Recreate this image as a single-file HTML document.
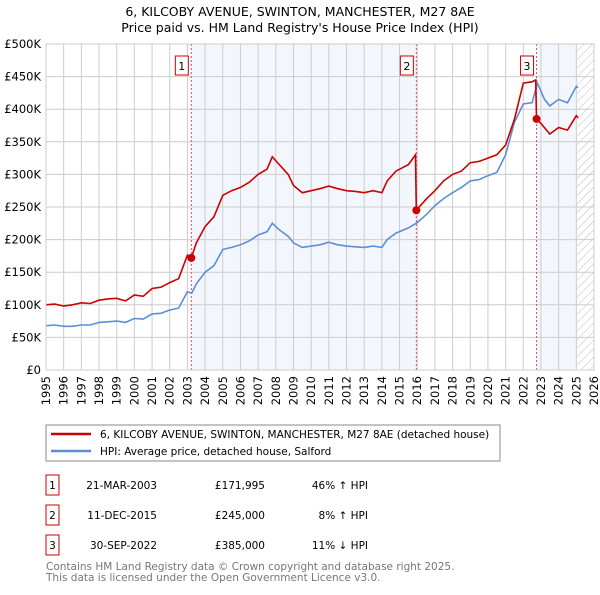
<!DOCTYPE html>
<html><head><meta charset="utf-8"><style>
body{margin:0;background:#fff;font-family:"Liberation Sans","DejaVu Sans",sans-serif;}
svg text{font-family:"DejaVu Sans","Liberation Sans",sans-serif;}
</style></head><body>
<svg id="c" width="600" height="590" xmlns="http://www.w3.org/2000/svg">
<defs><pattern id="hatch" width="6" height="6" patternUnits="userSpaceOnUse" patternTransform="rotate(45)"><line x1="0" y1="0" x2="0" y2="6" stroke="#bbb" stroke-width="1"/></pattern></defs>
<text x="300" y="16" text-anchor="middle" font-size="12.5">6, KILCOBY AVENUE, SWINTON, MANCHESTER, M27 8AE</text>
<text x="300" y="32" text-anchor="middle" font-size="12.5">Price paid vs. HM Land Registry's House Price Index (HPI)</text>
<g id="plot"></g>
<rect x="46" y="425" width="454" height="36" fill="#fff" stroke="#888"/>
<line x1="51" y1="434" x2="91" y2="434" stroke="#cc0000" stroke-width="2.5"/>
<text x="100" y="438" font-size="10.5">6, KILCOBY AVENUE, SWINTON, MANCHESTER, M27 8AE (detached house)</text>
<line x1="51" y1="451" x2="91" y2="451" stroke="#5b8fd6" stroke-width="2.5"/>
<text x="100" y="455" font-size="10.5">HPI: Average price, detached house, Salford</text>
<g id="table" font-size="10.5"></g>
<text x="46" y="570" font-size="10.5" fill="#777">Contains HM Land Registry data © Crown copyright and database right 2025.</text>
<text x="46" y="581" font-size="10.5" fill="#777">This data is licensed under the Open Government Licence v3.0.</text>
</svg>
<script>
const hpiYears=[1995,1995.5,1996,1996.5,1997,1997.5,1998,1998.5,1999,1999.5,2000,2000.5,2001,2001.5,2002,2002.5,2003,2003.25,2003.5,2004,2004.5,2005,2005.5,2006,2006.5,2007,2007.5,2007.8,2008.2,2008.7,2009,2009.5,2010,2010.5,2011,2011.5,2012,2012.5,2013,2013.5,2014,2014.3,2014.8,2015.5,2016,2016.5,2017,2017.5,2018,2018.5,2019,2019.5,2020,2020.5,2021,2021.5,2022,2022.5,2022.8,2023.2,2023.5,2024,2024.5,2025,2025.1];
const hpiValues=[68,69,67,67,69,69,73,74,75,73,79,78,86,87,92,95,120,118,132,150,160,185,188,192,198,207,212,225,215,205,195,188,190,192,196,192,190,189,188,190,188,200,210,218,226,238,252,263,272,280,290,292,298,303,330,380,408,410,440,415,405,415,410,435,433];
const propYears=[1995,1995.5,1996,1996.5,1997,1997.5,1998,1998.5,1999,1999.5,2000,2000.5,2001,2001.5,2002,2002.5,2003,2003.22,2003.5,2004,2004.5,2005,2005.5,2006,2006.5,2007,2007.5,2007.8,2008.2,2008.7,2009,2009.5,2010,2010.5,2011,2011.5,2012,2012.5,2013,2013.5,2014,2014.3,2014.8,2015.5,2015.9,2015.95,2016.5,2017,2017.5,2018,2018.5,2019,2019.5,2020,2020.5,2021,2021.5,2022,2022.5,2022.7,2022.75,2023,2023.5,2024,2024.5,2025,2025.1];
const propValues=[100,101,98,100,103,102,107,109,110,106,115,113,125,127,134,140,176,172,195,220,235,268,275,280,288,300,308,327,315,300,283,272,275,278,282,278,275,274,272,275,272,290,305,315,330,245,262,275,290,300,305,318,320,325,330,345,385,440,442,445,385,378,362,372,368,390,387];
const saleLabels=["1","2","3"];
const saleYears=[2003.22,2015.95,2022.75];
const saleValues=[171995,245000,385000];
const saleDates=["21-MAR-2003","11-DEC-2015","30-SEP-2022"];
const salePrices=["£171,995","£245,000","£385,000"];
const saleDiffs=["46% ↑ HPI","8% ↑ HPI","11% ↓ HPI"];
const yTicks=[0,50,100,150,200,250,300,350,400,450,500];
const xTicks=[1995,1996,1997,1998,1999,2000,2001,2002,2003,2004,2005,2006,2007,2008,2009,2010,2011,2012,2013,2014,2015,2016,2017,2018,2019,2020,2021,2022,2023,2024,2025,2026];

const NS="http://www.w3.org/2000/svg";
const L=46,R=594,T=44,B=370;
const X=y=>L+(y-1995)/(2026-1995)*(R-L);
const Y=v=>B-v/500*(B-T);
const g=document.getElementById('plot');
function mk(tag,attrs,parent){const e=document.createElementNS(NS,tag);for(const k in attrs)e.setAttribute(k,attrs[k]);(parent||g).appendChild(e);return e;}
let s1=mk('rect',{x:X(saleYears[0]),y:T,width:X(saleYears[1])-X(saleYears[0]),height:B-T,fill:'#eef3fc',opacity:0.7});


let s2=mk('rect',{x:X(saleYears[2]),y:T,width:X(2025.05)-X(saleYears[2]),height:B-T,fill:'#eef3fc',opacity:0.7});


let h=mk('rect',{x:X(2025.05),y:T,width:R-X(2025.05),height:B-T,fill:'url(#hatch)'});


xTicks.forEach(t=>{
 let l=mk('line',{x1:X(t),x2:X(t),y1:T,y2:B,stroke:'#ccc','stroke-width':1});
 
 
 let tx=mk('text',{x:0,y:0,'font-size':11.5,'text-anchor':'end',transform:`translate(${X(t)+4},${B+6}) rotate(-90)`});
 tx.textContent=t;
 
 
});
yTicks.forEach(t=>{
 let l=mk('line',{x1:L,x2:R,y1:Y(t),y2:Y(t),stroke:'#ccc','stroke-width':1});
 
 
 let tx=mk('text',{x:L-5,y:Y(t)+4,'font-size':11.5,'text-anchor':'end'});
 tx.textContent=t===0?'£0':'£'+t+'K';
 
 
});
saleYears.forEach((sy,i)=>{
 let l=mk('line',{x1:X(sy),x2:X(sy),y1:T,y2:B,stroke:'#e05050','stroke-width':1,'stroke-dasharray':'2,2'});
 
 
 let bx=X(sy)-12;
 let r=mk('rect',{x:bx-4,y:56,width:13,height:19,fill:'#fff',stroke:'#cc0000'});
 
 
 let t=mk('text',{x:bx+2.5,y:70,'font-size':11,'text-anchor':'middle'});
 t.textContent=saleLabels[i];
 
 
});
function path(xs,vs,color,name){
 let d=xs.map((x,i)=>(i?'L':'M')+X(x).toFixed(1)+','+Y(vs[i]).toFixed(1)).join('');
 let p=mk('path',{d:d,fill:'none',stroke:color,'stroke-width':1.6});
 
 
}
path(hpiYears,hpiValues,'#5b8fd6','hpi-line');
path(propYears,propValues,'#cc0000','property-line');
saleYears.forEach((sy,i)=>{
 let c=mk('circle',{cx:X(sy),cy:Y(saleValues[i]/1000),r:4,fill:'#cc0000'});
 
 
});
let ax=mk('rect',{x:L,y:T,width:R-L,height:B-T,fill:'none',stroke:'#ccc'});


const tb=document.getElementById('table');
saleLabels.forEach((lab,i)=>{
 const y=485+i*30;
 let r=mk('rect',{x:46,y:y-10,width:13,height:20,fill:'#fff',stroke:'#cc0000'},tb);
 
 
 const cells=[[52.5,lab,'middle'],[157,saleDates[i],'end'],[265,salePrices[i],'end'],[368,saleDiffs[i],'end']];
 cells.forEach(c=>{let t=mk('text',{x:c[0],y:y+4,'text-anchor':c[2]},tb);t.textContent=c[1];
 
 });
});
</script>
</body></html>
